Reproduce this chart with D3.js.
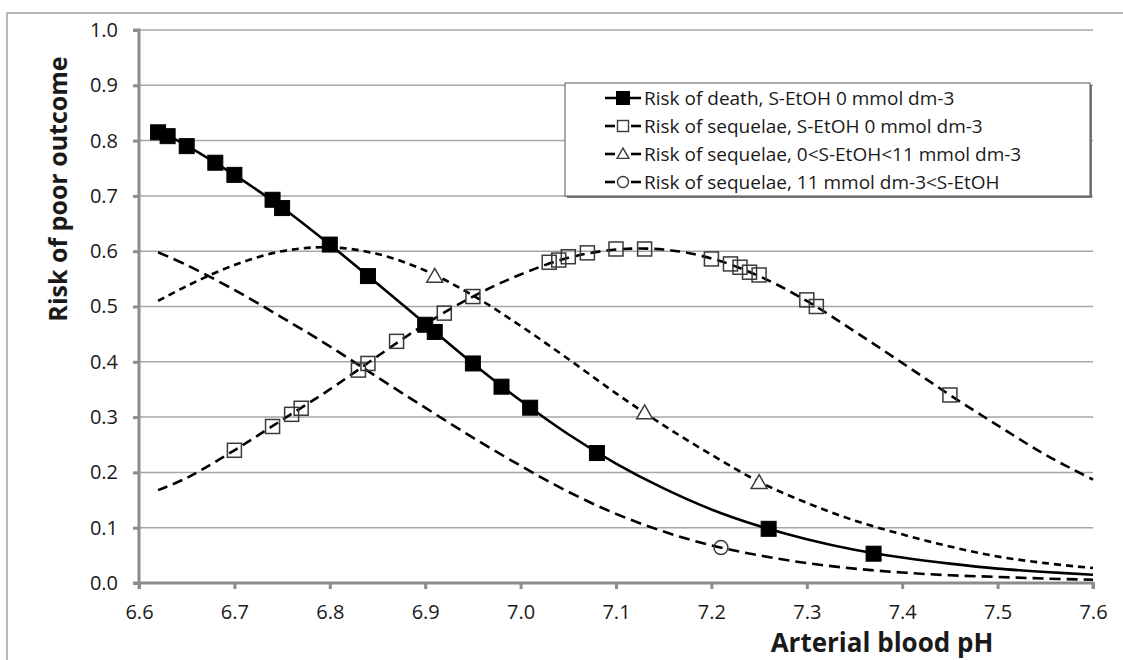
<!DOCTYPE html>
<html>
<head>
<meta charset="utf-8">
<script src="https://cdn.jsdelivr.net/npm/d3@7"></script>
<style>
  html, body { margin: 0; padding: 0; background: #fff; }
  svg { display: block; }
  text { font-family: "Open Sans", "DejaVu Sans", sans-serif; fill: #1a1a1a; }
</style>
</head>
<body>
<svg id="chart" width="1123" height="660"></svg>
<script>
// Axis ticks
const xTicks = [6.6, 6.7, 6.8, 6.9, 7.0, 7.1, 7.2, 7.3, 7.4, 7.5, 7.6];
const yTicks = [0.0, 0.1, 0.2, 0.3, 0.4, 0.5, 0.6, 0.7, 0.8, 0.9, 1.0];

// Series names
const seriesNames = [
  "Risk of death, S-EtOH 0 mmol dm-3",
  "Risk of sequelae, S-EtOH 0 mmol dm-3",
  "Risk of sequelae, 0<S-EtOH<11 mmol dm-3",
  "Risk of sequelae, 11 mmol dm-3<S-EtOH"
];

// Fitted curves: pH grid and risk values
const curvePH = [6.62, 6.65, 6.70, 6.75, 6.80, 6.85, 6.90, 6.95, 7.00, 7.05, 7.10,
                 7.15, 7.20, 7.25, 7.30, 7.35, 7.40, 7.45, 7.50, 7.55, 7.60];
const deathCurve    = [0.818, 0.791, 0.738, 0.679, 0.612, 0.541, 0.469, 0.397, 0.330, 0.269, 0.216,
                       0.171, 0.133, 0.103, 0.079, 0.060, 0.046, 0.035, 0.026, 0.020, 0.015];
const seqZeroCurve  = [0.168, 0.190, 0.240, 0.295, 0.350, 0.410, 0.468, 0.518, 0.558, 0.588, 0.603,
                       0.603, 0.587, 0.555, 0.510, 0.455, 0.398, 0.340, 0.285, 0.232, 0.187];
const seqMidCurve   = [0.510, 0.537, 0.575, 0.600, 0.607, 0.595, 0.565, 0.520, 0.465, 0.405, 0.343,
                       0.285, 0.232, 0.183, 0.145, 0.113, 0.088, 0.066, 0.048, 0.036, 0.027];
const seqHighCurve  = [0.598, 0.575, 0.530, 0.480, 0.428, 0.372, 0.317, 0.263, 0.212, 0.165, 0.125,
                       0.093, 0.068, 0.050, 0.036, 0.026, 0.019, 0.014, 0.011, 0.008, 0.006];

// Observed points
const deathPH   = [6.62, 6.63, 6.65, 6.68, 6.70, 6.74, 6.75, 6.80, 6.84, 6.90, 6.91, 6.95, 6.98, 7.01, 7.08, 7.26, 7.37];
const deathRisk = [0.815, 0.808, 0.790, 0.760, 0.738, 0.693, 0.678, 0.612, 0.555, 0.467, 0.454, 0.397, 0.355, 0.317, 0.235, 0.098, 0.053];

const seqZeroPH   = [6.70, 6.74, 6.76, 6.77, 6.83, 6.84, 6.87, 6.92, 6.95, 7.03, 7.04, 7.05, 7.07, 7.10, 7.13,
                     7.20, 7.22, 7.23, 7.24, 7.25, 7.30, 7.31, 7.45];
const seqZeroRisk = [0.240, 0.283, 0.305, 0.316, 0.385, 0.397, 0.437, 0.488, 0.518, 0.580, 0.584, 0.590, 0.597, 0.604, 0.604,
                     0.586, 0.577, 0.571, 0.562, 0.557, 0.512, 0.500, 0.340];

const seqMidPH   = [6.91, 7.13, 7.25];
const seqMidRisk = [0.555, 0.308, 0.182];

const seqHighPH   = [7.21];
const seqHighRisk = [0.064];

const svg = d3.select("#chart");
const W = 1123, H = 660;
const plot = { left: 139, right: 1093, top: 30, bottom: 583 };

const x = d3.scaleLinear().domain([6.6, 7.6]).range([plot.left, plot.right]);
const y = d3.scaleLinear().domain([0, 1]).range([plot.bottom, plot.top]);

// Outer chart frame
svg.append("rect")
  .attr("x", 7).attr("y", 13).attr("width", W + 20).attr("height", H + 20)
  .attr("fill", "#fff").attr("stroke", "#b8b8b8").attr("stroke-width", 2);

// Horizontal gridlines
svg.append("g").selectAll("line")
  .data(yTicks.filter(d => d > 0))
  .join("line")
  .attr("x1", plot.left).attr("x2", plot.right)
  .attr("y1", d => y(d)).attr("y2", d => y(d))
  .attr("stroke", "#a6a6a6").attr("stroke-width", 1.5);

// Axes
const yAxis = svg.append("g")
  .attr("transform", `translate(${plot.left},0)`)
  .call(d3.axisLeft(y).tickValues(yTicks).tickFormat(d3.format(".1f")).tickSize(6).tickPadding(15));
const xAxis = svg.append("g")
  .attr("transform", `translate(0,${plot.bottom})`)
  .call(d3.axisBottom(x).tickValues(xTicks).tickFormat(d3.format(".1f")).tickSize(6).tickPadding(16));

[yAxis, xAxis].forEach(g => {
  g.select(".domain").attr("stroke", "#8c8c8c").attr("stroke-width", 3);
  g.selectAll(".tick line").attr("stroke", "#8c8c8c").attr("stroke-width", 3);
  g.selectAll(".tick text")
    .attr("font-family", "\"Open Sans\", sans-serif")
    .attr("font-size", 20).attr("fill", "#1a1a1a");
});
yAxis.select(".domain").attr("d", `M-6,${plot.bottom}H0V${plot.top}H-6`);
xAxis.select(".domain").attr("d", `M${plot.left},6V0H${plot.right}V6`);

// Axis titles
svg.append("text")
  .attr("transform", `translate(67,189) rotate(-90)`)
  .attr("text-anchor", "middle")
  .attr("font-size", 25).attr("font-weight", "bold")
  .text("Risk of poor outcome");
svg.append("text")
  .attr("x", 882).attr("y", 652)
  .attr("text-anchor", "middle")
  .attr("font-size", 26).attr("font-weight", "bold")
  .text("Arterial blood pH");

// Curves
const line = d3.line()
  .x(d => x(d[0])).y(d => y(d[1]))
  .curve(d3.curveCatmullRom.alpha(0.5));

const curves = [
  { vals: seqHighCurve, dash: "11,6" },
  { vals: seqMidCurve,  dash: "7,5" },
  { vals: seqZeroCurve, dash: "10,6" },
  { vals: deathCurve,   dash: null }
];
const curveG = svg.append("g");
curves.forEach(c => {
  curveG.append("path")
    .datum(curvePH.map((p, i) => [p, c.vals[i]]))
    .attr("d", line)
    .attr("fill", "none")
    .attr("stroke", "#000")
    .attr("stroke-width", 2.6)
    .attr("stroke-dasharray", c.dash);
});

// Markers
const markG = svg.append("g");
function squares(ph, risk, size, filled) {
  markG.append("g").selectAll("rect")
    .data(ph.map((p, i) => [p, risk[i]]))
    .join("rect")
    .attr("x", d => x(d[0]) - size / 2).attr("y", d => y(d[1]) - size / 2)
    .attr("width", size).attr("height", size)
    .attr("fill", filled ? "#000" : "none")
    .attr("stroke", filled ? "#000" : "#3a3a3a")
    .attr("stroke-width", filled ? 1 : 1.5);
}
squares(seqZeroPH, seqZeroRisk, 14, false);

const tri = d3.symbol().type(d3.symbolTriangle).size(110);
markG.append("g").selectAll("path")
  .data(seqMidPH.map((p, i) => [p, seqMidRisk[i]]))
  .join("path")
  .attr("transform", d => `translate(${x(d[0])},${y(d[1]) + 1.5})`)
  .attr("d", tri)
  .attr("fill", "#fff").attr("stroke", "#3a3a3a").attr("stroke-width", 1.5);

markG.append("g").selectAll("circle")
  .data(seqHighPH.map((p, i) => [p, seqHighRisk[i]]))
  .join("circle")
  .attr("cx", d => x(d[0])).attr("cy", d => y(d[1]))
  .attr("r", 7)
  .attr("fill", "none").attr("stroke", "#3a3a3a").attr("stroke-width", 1.5);

squares(deathPH, deathRisk, 15, true);

// Legend
const lg = svg.append("g");
lg.append("rect")
  .attr("x", 567).attr("y", 85).attr("width", 525).attr("height", 113)
  .attr("fill", "#7a7a7a");
lg.append("rect")
  .attr("x", 565).attr("y", 83).attr("width", 525).attr("height", 113)
  .attr("fill", "#fff").attr("stroke", "#555").attr("stroke-width", 1);

const legendRows = [98, 126, 154, 182];
seriesNames.forEach((name, i) => {
  const cy = legendRows[i];
  const g = lg.append("g");
  if (i === 0) {
    g.append("line").attr("x1", 605).attr("x2", 641).attr("y1", cy).attr("y2", cy)
      .attr("stroke", "#000").attr("stroke-width", 2.6);
    g.append("rect").attr("x", 623 - 7).attr("y", cy - 7).attr("width", 14).attr("height", 14)
      .attr("fill", "#000");
  } else {
    g.append("line").attr("x1", 605).attr("x2", 615).attr("y1", cy).attr("y2", cy)
      .attr("stroke", "#000").attr("stroke-width", 2.6);
    g.append("line").attr("x1", 631).attr("x2", 641).attr("y1", cy).attr("y2", cy)
      .attr("stroke", "#000").attr("stroke-width", 2.6);
    if (i === 1) {
      g.append("rect").attr("x", 623 - 5.5).attr("y", cy - 5.5).attr("width", 11).attr("height", 11)
        .attr("fill", "none").attr("stroke", "#3a3a3a").attr("stroke-width", 1.4);
    } else if (i === 2) {
      g.append("path").attr("transform", `translate(623,${cy + 1})`)
        .attr("d", d3.symbol().type(d3.symbolTriangle).size(60)())
        .attr("fill", "none").attr("stroke", "#3a3a3a").attr("stroke-width", 1.4);
    } else {
      g.append("circle").attr("cx", 623).attr("cy", cy).attr("r", 5.5)
        .attr("fill", "none").attr("stroke", "#3a3a3a").attr("stroke-width", 1.4);
    }
  }
  g.append("text")
    .attr("x", 644).attr("y", cy).attr("dy", "0.35em")
    .attr("font-size", 19)
    .text(name);
});
</script>
</body>
</html>
